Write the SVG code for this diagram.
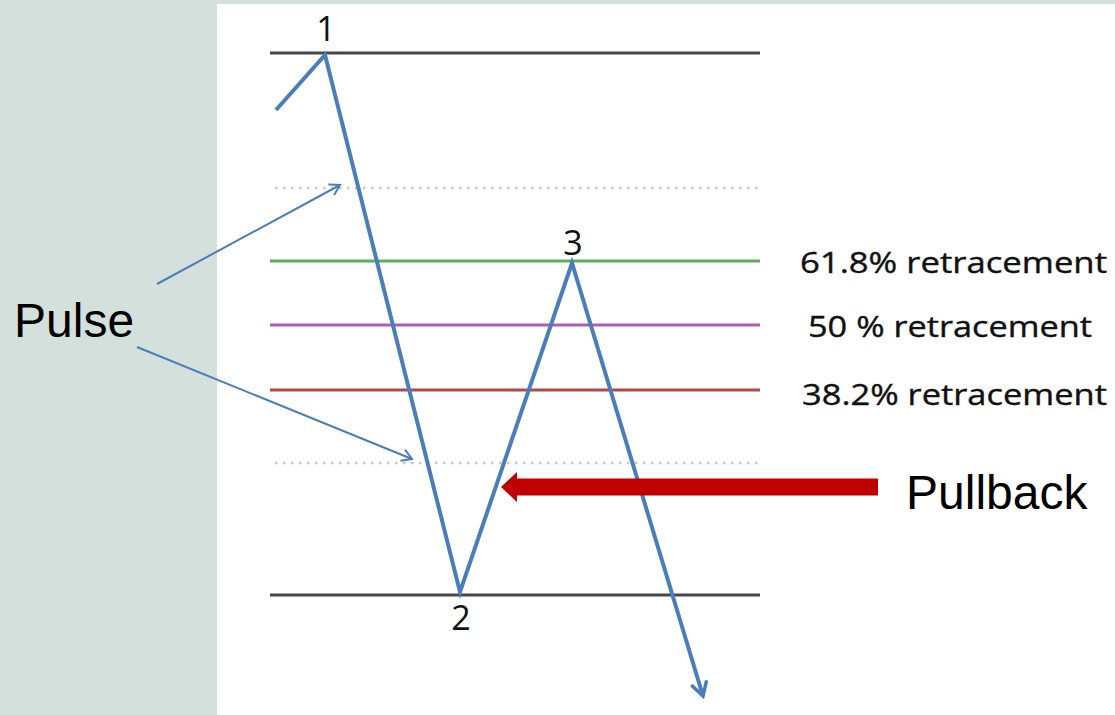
<svg xmlns="http://www.w3.org/2000/svg" width="1115" height="715" viewBox="0 0 1115 715">
<defs>
<style>
.lvl{stroke-width:3;fill:none}
.dot{stroke:#c8c8c8;stroke-width:2.5;stroke-dasharray:2.5 5.5;fill:none}
.ret{font-family:"Open Sans","Liberation Sans",sans-serif;font-size:30px;fill:#111;stroke:#111;stroke-width:0.4}
.num{font-family:"Open Sans","Liberation Sans",sans-serif;font-size:34px;fill:#111;text-anchor:middle}
.big{font-family:"Liberation Sans",Arial,sans-serif;font-size:48px;fill:#000}
.blue{stroke:#4a7ebb;fill:none;stroke-linejoin:miter}
</style>
<marker id="open" viewBox="0 0 14 14" refX="12" refY="7" markerWidth="14" markerHeight="14" markerUnits="userSpaceOnUse" orient="auto">
<path d="M2,1 L12,7 L2,13" fill="none" stroke="#4a7ebb" stroke-width="2"/>
</marker>
<marker id="open2" viewBox="0 0 20 20" refX="17" refY="10" markerWidth="20" markerHeight="20" markerUnits="userSpaceOnUse" orient="auto">
<path d="M3,2 L17,10 L3,18" fill="none" stroke="#4a7ebb" stroke-width="3.5"/>
</marker>
</defs>
<rect x="0" y="0" width="1115" height="715" fill="#d3e0dc"/>
<rect x="217" y="4" width="898" height="711" fill="#ffffff"/>
<g id="levels">
<line class="lvl" x1="270" y1="53" x2="760" y2="53" stroke="#474747"/>
<line class="dot" x1="275" y1="188" x2="760" y2="188"/>
<line class="lvl" x1="270" y1="261" x2="760" y2="261" stroke="#5aae5a"/>
<line class="lvl" x1="270" y1="325" x2="760" y2="325" stroke="#b45cb4"/>
<line class="lvl" x1="270" y1="390" x2="760" y2="390" stroke="#b04a4a"/>
<line class="dot" x1="275" y1="463" x2="760" y2="463"/>
<line class="lvl" x1="270" y1="595" x2="760" y2="595" stroke="#474747"/>
</g>
<g id="labels">
<text class="ret" x="800" y="273" textLength="307" lengthAdjust="spacingAndGlyphs">61.8% retracement</text>
<text class="ret" x="808" y="337" textLength="284" lengthAdjust="spacingAndGlyphs">50 % retracement</text>
<text class="ret" x="802" y="405" textLength="305" lengthAdjust="spacingAndGlyphs">38.2% retracement</text>
<text class="num" x="326" y="41">1</text>
<text class="num" x="461" y="630">2</text>
<text class="num" x="573" y="255">3</text>
</g>
<g id="connectors">
<polyline class="blue" stroke-width="4" points="276,110 325,55 460,592 572,263 703,696" marker-end="url(#open2)"/>
<line class="blue" stroke-width="2" x1="157" y1="284" x2="340" y2="185" marker-end="url(#open)"/>
<line class="blue" stroke-width="2" x1="137" y1="347" x2="412" y2="459" marker-end="url(#open)"/>
</g>
<g id="pullback-arrow">
<rect x="515" y="478.5" width="363" height="17" fill="#c00000"/>
<polygon points="501,487 517,472 517,502" fill="#c00000"/>
</g>
<g id="pulse"><text class="big" x="14" y="337">Pulse</text></g>
<g id="pullback"><text class="big" x="906" y="509">Pullback</text></g>
</svg>
